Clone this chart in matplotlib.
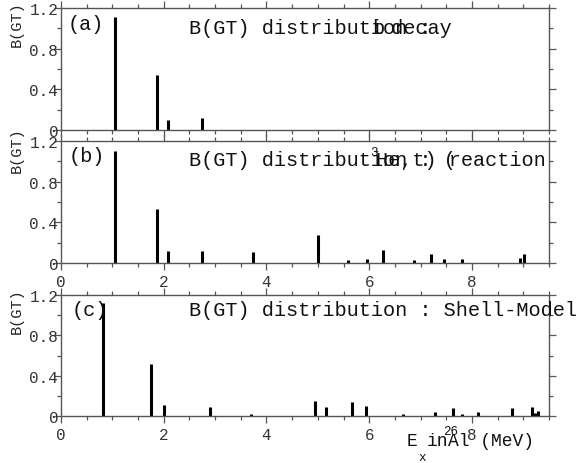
import matplotlib
matplotlib.use("Agg")
import matplotlib.pyplot as plt
from matplotlib.ticker import MultipleLocator, FixedLocator, FixedFormatter

# ---------------- data ----------------
xa = [1.06, 1.86, 2.08, 2.74]
ya = [1.11, 0.54, 0.10, 0.12]

xb = [1.06, 1.86, 2.08, 2.74, 3.73, 5.01, 5.58, 5.95, 6.27, 6.88, 7.20, 7.46, 7.81, 8.94, 9.01]
yb = [1.10, 0.53, 0.12, 0.12, 0.11, 0.28, 0.026, 0.043, 0.13, 0.033, 0.092, 0.043, 0.043, 0.046, 0.085]

xc = [0.82, 1.75, 2.00, 2.90, 3.69, 4.94, 5.16, 5.67, 5.94, 6.66, 7.28, 7.63, 7.80, 8.12, 8.78, 9.16, 9.22, 9.28]
yc = [1.12, 0.52, 0.11, 0.086, 0.023, 0.145, 0.086, 0.135, 0.099, 0.02, 0.04, 0.076, 0.017, 0.036, 0.079, 0.086, 0.033, 0.05]

xticks = [0, 2, 4, 6, 8]
xticklabels = ["0", "2", "4", "6", "8"]
yticks = [0, 0.4, 0.8, 1.2]
yticklabels = ["0", "0.4", "0.8", "1.2"]

W, H = 579, 464
MONO = ["Liberation Mono", "DejaVu Sans Mono"]

fig = plt.figure(figsize=(W / 100, H / 100), dpi=100)


def fx(x):
    return x / W


def fy(y):
    return 1 - y / H


def make_axes(top, bottom, show_xlabels):
    left, right = 61, 549
    ax = fig.add_axes([fx(left), fy(bottom), (right - left) / W, (bottom - top) / H])
    ax.set_xlim(0, 9.5)
    ax.set_ylim(0, 1.2)
    ax.xaxis.set_major_locator(FixedLocator(xticks))
    ax.xaxis.set_minor_locator(MultipleLocator(0.5))
    ax.yaxis.set_major_locator(FixedLocator(yticks))
    ax.yaxis.set_minor_locator(MultipleLocator(0.2))
    ax.yaxis.set_major_formatter(FixedFormatter(yticklabels))
    if show_xlabels:
        ax.xaxis.set_major_formatter(FixedFormatter(xticklabels))
    ax.tick_params(which="both", direction="out", top=True, right=True,
                   color="#555555", width=0.9)
    ax.tick_params(which="major", length=5)
    ax.tick_params(which="minor", length=3)
    ax.tick_params(axis="y", which="major", pad=-3, labelsize=11.5, labelcolor="#333333")
    ax.tick_params(axis="x", which="major", pad=3, labelsize=11.5, labelcolor="#333333",
                   labelbottom=show_xlabels)
    for lab in ax.get_xticklabels() + ax.get_yticklabels():
        lab.set_fontfamily(MONO)
    for s in ax.spines.values():
        s.set_color("#555555")
        s.set_linewidth(1.0)
    return ax


ax_a = make_axes(9, 131, False)
ax_b = make_axes(142, 264, True)
ax_c = make_axes(296, 417, True)

for ax, xs, ys in ((ax_a, xa, ya), (ax_b, xb, yb), (ax_c, xc, yc)):
    ax.vlines(xs, 0, ys, colors="black", linewidth=2.2)

TS = 14.6


def txt(x, y, s, size=TS, va="center", **kw):
    fig.text(fx(x), fy(y), s, fontsize=size, family=MONO, ha="left", va=va,
             color="#111111", **kw)


# panel labels
txt(68, 24, "(a)")
txt(69, 157, "(b)")
txt(72, 310, "(c)")

# panel a title (overlapping pieces as in original)
txt(189, 29, "B(GT) distribution : ")
txt(372, 29, "b")
txt(379, 29, " decay")

# panel b title
txt(189, 161, "B(GT) distribution : (")
txt(370, 153, "3", size=9)
txt(376, 161, "He,t) reaction")

# panel c title
txt(189, 311, "B(GT) distribution : Shell-Model")

# y labels
for yc_ in (24, 150, 311):
    fig.text(fx(17), fy(yc_), "B(GT)", rotation=90, fontsize=11, family=MONO,
             ha="center", va="center", color="#222222")

# x label
XS = 13
txt(407, 442, "E", size=XS)
txt(418, 458, "x", size=9)
txt(427, 442, "in", size=XS)
txt(443, 432, "26", size=9)
txt(448, 442, "Al (MeV)", size=XS)

fig.savefig("out.png", dpi=100)
